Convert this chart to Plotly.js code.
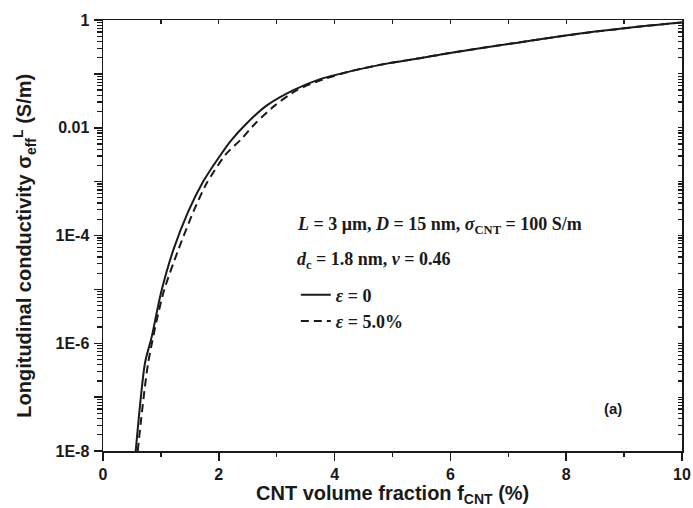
<!DOCTYPE html>
<html>
<head>
<meta charset="utf-8">
<script src="https://cdn.plot.ly/plotly-3.0.1.min.js"></script>
<style>html,body{margin:0;padding:0;background:#fff;}#chart{width:693px;height:508px;}</style>
</head>
<body>
<div id="chart"></div>
<script>
// Solid curve: epsilon = 0
var xSolid = [0.565, 0.725, 0.84, 1.0, 1.215, 1.47, 1.73, 2.0, 2.2, 2.48, 2.83, 3.29, 3.75, 4.32, 4.9, 5.47, 5.94, 7.09, 8.24, 9.39, 10.0];
var ySolid = [1.0e-8, 4.3e-7, 1.3e-6, 8.5e-6, 5.4e-5, 2.75e-4, 1.0e-3, 2.8e-3, 5.6e-3, 1.2e-2, 2.6e-2, 5.0e-2, 8.0e-2, 0.115, 0.155, 0.195, 0.24, 0.37, 0.56, 0.78, 0.90];
// Dashed curve: epsilon = 5.0%
var xDash = [0.60, 0.78, 1.04, 1.30, 1.56, 1.79, 2.12, 2.38, 2.63, 2.97, 3.35, 3.8, 4.32, 4.9, 5.47, 5.94, 7.09, 8.24, 9.39, 10.0];
var yDash = [1.0e-8, 4.3e-7, 8.5e-6, 5.4e-5, 2.75e-4, 9.3e-4, 3.2e-3, 6.0e-3, 1.2e-2, 2.6e-2, 5.0e-2, 7.9e-2, 0.115, 0.155, 0.195, 0.24, 0.37, 0.56, 0.78, 0.90];
// Axis ticks
var yLabelVals = [1e-8, 1e-6, 1e-4, 1e-2, 1];
var yLabelText = ['1E-8', '1E-6', '1E-4', '0.01', '1'];
var yDecadeVals = [1e-8, 1e-7, 1e-6, 1e-5, 1e-4, 1e-3, 1e-2, 1e-1, 1];
var decadeExps = [-8, -7, -6, -5, -4, -3, -2, -1];
var minorMults = [1, 2, 3, 4, 5, 6, 7, 8, 9];
var seriesNames = ['<i>ε</i> = 0', '<i>ε</i> = 5.0%'];

// every log tick position (1..9 x 10^e) plus the top value 1
var yAllVals = [];
decadeExps.forEach(function (e) {
  minorMults.forEach(function (m) { yAllVals.push(Number((m * Math.pow(10, e)).toPrecision(3))); });
});
yAllVals.push(1);
var yAllText = yAllVals.map(function (v) {
  var i = yLabelVals.indexOf(v);
  return i >= 0 ? yLabelText[i] : '';
});

var sans = 'Liberation Sans, Arial, sans-serif';
var serif = 'Liberation Serif, Times New Roman, serif';
var ink = '#1a1a1a';

var traces = [
  {x: xSolid, y: ySolid, type: 'scatter', mode: 'lines', name: seriesNames[0],
   line: {color: ink, width: 2, shape: 'spline', smoothing: 0.7}},
  {x: xDash, y: yDash, type: 'scatter', mode: 'lines', name: seriesNames[1],
   line: {color: ink, width: 2, dash: '8px,5px', shape: 'spline', smoothing: 0.7}},
  {x: [0, 10], y: [1e-8, 1], xaxis: 'x2', yaxis: 'y2', type: 'scatter', mode: 'lines',
   line: {color: 'rgba(0,0,0,0)', width: 0}, showlegend: false, hoverinfo: 'skip'},
  {x: [0, 10], y: [1e-8, 1], xaxis: 'x', yaxis: 'y3', type: 'scatter', mode: 'lines',
   line: {color: 'rgba(0,0,0,0)', width: 0}, showlegend: false, hoverinfo: 'skip'}
];

var layout = {
  width: 693, height: 508,
  margin: {l: 103, r: 11, t: 20, b: 57},
  paper_bgcolor: '#fff', plot_bgcolor: '#fff',
  showlegend: true,
  legend: {x: 0.333, y: 0.405, xanchor: 'left', yanchor: 'top',
           bgcolor: 'rgba(0,0,0,0)', borderwidth: 0, tracegroupgap: 0,
           font: {family: serif, size: 18, color: ink, weight: 'bold'}},
  xaxis: {range: [0, 10], dtick: 2, tick0: 0, ticks: 'outside', ticklen: 8, tickwidth: 1.5,
          tickcolor: ink, showline: true, linecolor: ink, linewidth: 1.5, mirror: true,
          showgrid: false, zeroline: false,
          minor: {dtick: 1, tick0: 0, ticks: 'outside', ticklen: 4, tickwidth: 1.5, tickcolor: ink, showgrid: false},
          tickfont: {family: sans, size: 16, color: ink, weight: 'bold'}},
  yaxis: {type: 'log', range: [-8, 0], tickmode: 'array', tickvals: yAllVals, ticktext: yAllText,
          ticks: 'outside', ticklen: 5, tickwidth: 1.2, tickcolor: ink, ticklabelstandoff: 4,
          showline: true, linecolor: ink, linewidth: 1.5, mirror: true,
          showgrid: false, zeroline: false,
          tickfont: {family: sans, size: 16, color: ink, weight: 'bold'}},
  yaxis3: {overlaying: 'y', side: 'left', anchor: 'x', type: 'log', range: [-8, 0],
           tickmode: 'array', tickvals: yDecadeVals,
           ticks: 'outside', ticklen: 8, tickwidth: 1.5, tickcolor: ink,
           showticklabels: false, showline: false, showgrid: false, zeroline: false},
  xaxis2: {overlaying: 'x', side: 'top', anchor: 'y2', range: [0, 10], dtick: 1, tick0: 0,
           ticks: 'inside', ticklen: 4, tickwidth: 1.2, tickcolor: ink,
           showticklabels: false, showline: false, showgrid: false, zeroline: false},
  yaxis2: {overlaying: 'y', side: 'right', type: 'log', range: [-8, 0], anchor: 'x2',
           tickmode: 'array', tickvals: yAllVals,
           ticks: 'inside', ticklen: 4, tickwidth: 1.2, tickcolor: ink,
           showticklabels: false, showline: false, showgrid: false, zeroline: false},
  annotations: [
    {xref: 'paper', yref: 'paper', x: -0.135, y: 0.476, xanchor: 'center', yanchor: 'middle',
     textangle: -90, showarrow: false,
     text: 'Longitudinal conductivity σ<sub>eff</sub><sup>L</sup> (S/m)',
     font: {family: sans, size: 20, color: ink, weight: 'bold'}},
    {xref: 'paper', yref: 'paper', x: 0.5, y: -0.1, xanchor: 'center', yanchor: 'middle',
     showarrow: false,
     text: 'CNT volume fraction f<sub>CNT</sub> (%)',
     font: {family: sans, size: 20, color: ink, weight: 'bold'}},
    {xref: 'paper', yref: 'paper', x: (295 - 103) / 579, y: (451 - 225) / 431, xanchor: 'left', yanchor: 'middle',
     showarrow: false,
     text: '<i>L</i> = 3 μm, <i>D</i> = 15 nm, <i>σ</i><sub>CNT</sub> = 100 S/m',
     font: {family: serif, size: 18, color: ink, weight: 'bold'}},
    {xref: 'paper', yref: 'paper', x: (295 - 103) / 579, y: (451 - 260) / 431, xanchor: 'left', yanchor: 'middle',
     showarrow: false,
     text: '<i>d</i><sub>c</sub> = 1.8 nm, <i>ν</i> = 0.46',
     font: {family: serif, size: 18, color: ink, weight: 'bold'}},
    {xref: 'paper', yref: 'paper', x: (613 - 103) / 579, y: (451 - 408) / 431, xanchor: 'center', yanchor: 'middle',
     showarrow: false, text: '(a)',
     font: {family: sans, size: 15, color: ink, weight: 'bold'}}
  ]
};

Plotly.newPlot('chart', traces, layout, {staticPlot: true, displayModeBar: false});
</script>
</body>
</html>
